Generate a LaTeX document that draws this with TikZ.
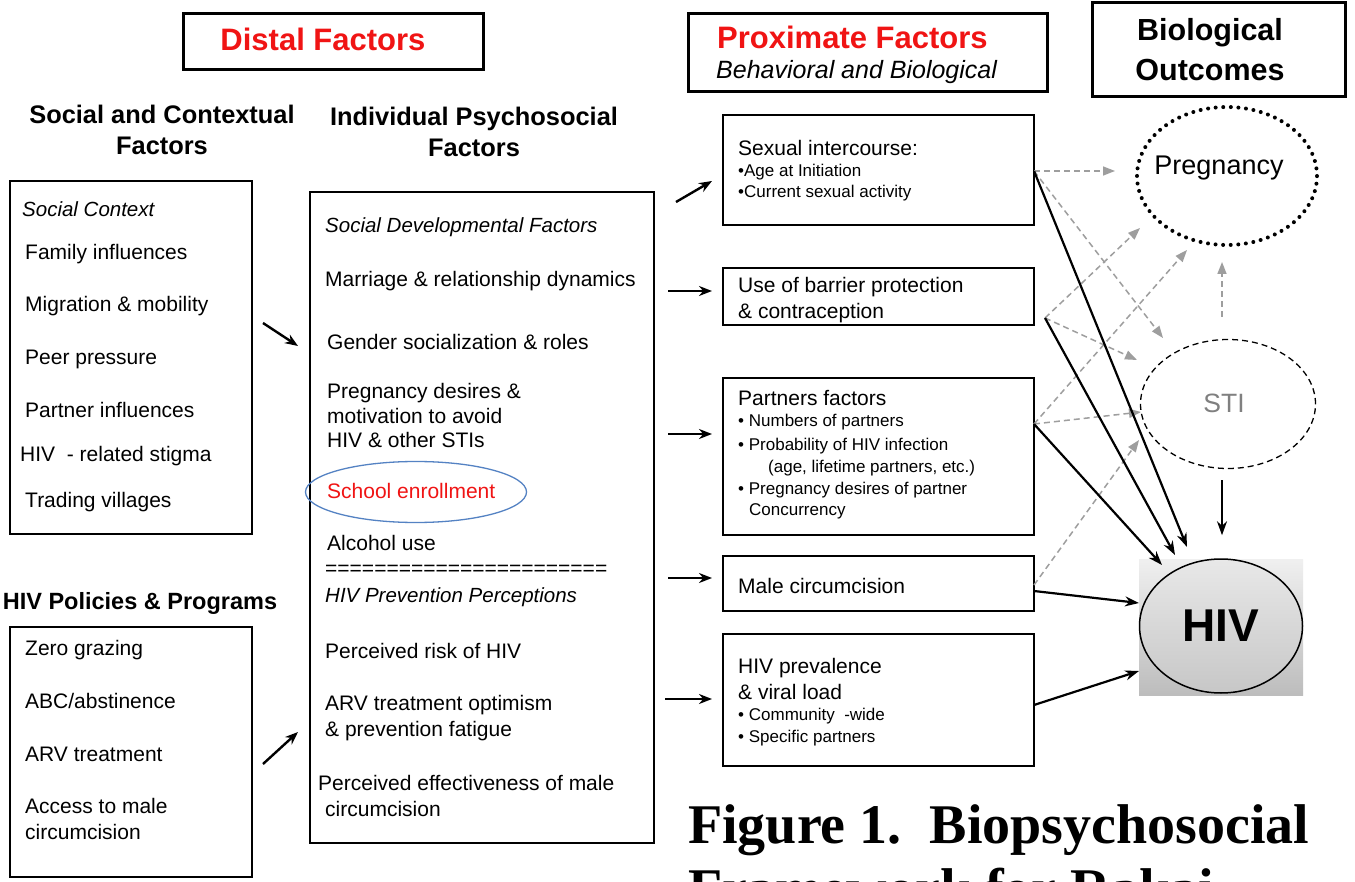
\documentclass[tikz,border=0pt]{standalone}
\usepackage{fontspec}
\setmainfont{Liberation Sans}
\newfontfamily\capfont{Liberation Serif}
\usetikzlibrary{arrows.meta,calc,shapes.geometric}
\definecolor{redt}{RGB}{240,20,20}
\definecolor{ellblue}{RGB}{84,130,195}
\definecolor{garrow}{RGB}{158,158,158}
\definecolor{stigray}{RGB}{128,128,128}
\tikzset{
  frame/.style={draw, line width=1.5pt, inner sep=0},
  hdrbox/.style={draw, line width=3pt, inner sep=0},
  body/.style={anchor=base west, inner sep=0, font=\fontsize{21}{25}\selectfont},
  bodyit/.style={anchor=base west, inner sep=0, font=\itshape\fontsize{20.5}{25}\selectfont},
  small/.style={anchor=base west, inner sep=0, font=\fontsize{17}{21}\selectfont},
  hdr/.style={anchor=base, inner sep=0, font=\bfseries\fontsize{25.4}{30}\selectfont},
  big/.style={anchor=base, inner sep=0, font=\bfseries\fontsize{31}{36}\selectfont},
  arr/.style={line width=2.4pt, -{Stealth[length=13pt,width=10pt]}},
  harr/.style={line width=2.2pt, -{Stealth[length=14pt,width=10pt]}},
  garr/.style={draw=garrow, line width=1.5pt, dash pattern=on 6pt off 4pt, -{Triangle[length=12pt,width=9pt,fill=garrow]}}
}
\begin{document}
\begin{tikzpicture}[x=1pt,y=-1pt]
\useasboundingbox (0,0) rectangle (1355,882);
\clip (0,0) rectangle (1355,882);
\fill[white] (0,0) rectangle (1355,882);

% ---------- top header boxes ----------
\node[hdrbox, minimum width=300, minimum height=56] (distal) at (333,42) {};
\node[big, text=redt] (distalT) at (323,51) {Distal Factors};
\node[hdrbox, minimum width=359, minimum height=78] (prox) at (867.5,53) {};
\node[anchor=base west, inner sep=0, font=\bfseries\fontsize{31}{36}\selectfont, text=redt] (proxT) at (717,49) {Proximate Factors};
\node[anchor=base west, inner sep=0, font=\itshape\fontsize{25}{30}\selectfont] (proxS) at (716,79) {Behavioral and Biological};
\node[hdrbox, minimum width=253, minimum height=94] (bio) at (1218.5,50) {};
\node[big, font=\bfseries\fontsize{30.5}{36}\selectfont] (bioT1) at (1210,41) {Biological};
\node[big, font=\bfseries\fontsize{30.5}{36}\selectfont] (bioT2) at (1210,81) {Outcomes};

% ---------- column headers ----------
\node[hdr] (scH1) at (162,124) {Social and Contextual};
\node[hdr] (scH2) at (162,155) {Factors};
\node[hdr] (ipH1) at (474,126) {Individual Psychosocial};
\node[hdr] (ipH2) at (474,157) {Factors};
\node[hdr, font=\bfseries\fontsize{23.5}{28}\selectfont] (polH) at (140,609) {HIV Policies \& Programs};

% ---------- social context box ----------
\node[frame, minimum width=242, minimum height=353] (social) at (131,357.5) {};
\node[bodyit] (s0) at (22,217) {Social Context};
\node[body] (s1) at (25,260) {Family influences};
\node[body] (s2) at (25,312) {Migration \& mobility};
\node[body] (s3) at (25,365) {Peer pressure};
\node[body] (s4) at (25,418) {Partner influences};
\node[body] (s5) at (20,461) {HIV\ \ - related stigma};
\node[body] (s6) at (25,507) {Trading villages};

% ---------- policies box ----------
\node[frame, minimum width=242, minimum height=250] (policy) at (131,752) {};
\node[body] (p1) at (25,655) {Zero grazing};
\node[body] (p2) at (25,708) {ABC/abstinence};
\node[body] (p3) at (25,761) {ARV treatment};
\node[body] (p4) at (25,813) {Access to male};
\node[body] (p5) at (25,839) {circumcision};

% ---------- individual psychosocial box ----------
\node[frame, minimum width=344, minimum height=651] (indiv) at (482,517.5) {};
\node[bodyit] (i0) at (325,233) {Social Developmental Factors};
\node[body] (i1) at (325,287) {Marriage \& relationship dynamics};
\node[body] (i2) at (327,350) {Gender socialization \& roles};
\node[body] (i3) at (327,399) {Pregnancy desires \&};
\node[body] (i4) at (327,424) {motivation to avoid};
\node[body] (i5) at (327,448) {HIV \& other STIs};
\node[body, text=redt] (i6) at (327,498) {School enrollment};
\node[ellipse, draw=ellblue, line width=1.3pt, minimum width=221, minimum height=61, inner sep=0] (ring) at (416,492) {};
\node[body] (i7) at (327,550) {Alcohol use};
\node[body] (i8) at (325,575) {=======================};
\node[bodyit] (i9) at (325,602) {HIV Prevention Perceptions};
\node[body] (i10) at (325,658) {Perceived risk of HIV};
\node[body] (i11) at (325,710) {ARV treatment optimism};
\node[body] (i12) at (325,736) {\& prevention fatigue};
\node[body] (i13) at (318,790) {Perceived effectiveness of male};
\node[body] (i14) at (325,816) {circumcision};

% ---------- proximate boxes ----------
\node[frame, minimum width=311, minimum height=110] (sex) at (878.5,170) {};
\node[body] (x1) at (738,156) {Sexual intercourse:};
\node[small] (x2) at (738,177) {\textbullet Age at Initiation};
\node[small] (x3) at (738,198) {\textbullet Current sexual activity};

\node[frame, minimum width=311, minimum height=57] (barrier) at (878.5,296.5) {};
\node[body] (b1) at (738,293) {Use of barrier protection};
\node[body] (b2) at (738,319) {\& contraception};

\node[frame, minimum width=311, minimum height=157] (partners) at (878.5,456.5) {};
\node[body] (q1) at (738,406) {Partners factors};
\node[small] (q2) at (738,427) {\textbullet\ Numbers of partners};
\node[small] (q3) at (738,450) {\textbullet\ Probability of HIV infection};
\node[small] (q4) at (768,472) {(age, lifetime partners, etc.)};
\node[small] (q5) at (738,494) {\textbullet\ Pregnancy desires of partner};
\node[small] (q6) at (749,515) {Concurrency};

\node[frame, minimum width=311, minimum height=55] (male) at (878.5,583.5) {};
\node[body] (m1) at (738,593) {Male circumcision};

\node[frame, minimum width=311, minimum height=132] (prev) at (878.5,700) {};
\node[body] (v1) at (738,673) {HIV prevalence};
\node[body] (v2) at (738,699) {\& viral load};
\node[small] (v3) at (738,720) {\textbullet\ Community\ \ -wide};
\node[small] (v4) at (738,742) {\textbullet\ Specific partners};

% ---------- outcomes ----------
\node[ellipse, draw, line width=4pt, dash pattern=on 0pt off 7.6pt, line cap=round, minimum width=180, minimum height=138, inner sep=0] (preg) at (1227,176) {};
\node[anchor=base, inner sep=0, font=\fontsize{27}{32}\selectfont] (pregT) at (1219,175) {Pregnancy};
\node[ellipse, draw, line width=1.3pt, dash pattern=on 6pt off 4pt, minimum width=175, minimum height=129, inner sep=0] (sti) at (1228,404) {};
\node[anchor=base, inner sep=0, text=stigray, font=\fontsize{26.5}{32}\selectfont] (stiT) at (1224,413) {STI};
\node[inner sep=0, minimum width=164, minimum height=136, top color=black!6, bottom color=black!26] (hivbg) at (1221,627) {};
\node[ellipse, draw, line width=1.5pt, minimum width=163, minimum height=134, inner sep=0, top color=black!9, bottom color=black!22, font=\bfseries\fontsize{46}{50}\selectfont] (hiv) at (1221,626) {HIV};

% ---------- coordinates (ports) ----------
\coordinate (aS1) at (263,323);  \coordinate (aS2) at (298,346);
\coordinate (aP1) at (263,764);  \coordinate (aP2) at (298,732);
\coordinate (aX1) at (676,202);  \coordinate (aX2) at (712,181);
\coordinate (aB1) at (668,291);  \coordinate (aB2) at (712,291);
\coordinate (aQ1) at (668,434);  \coordinate (aQ2) at (712,434);
\coordinate (aM1) at (668,578);  \coordinate (aM2) at (712,578);
\coordinate (aV1) at (665,699);  \coordinate (aV2) at (712,699);

\coordinate (pS) at (1034,171);
\coordinate (pB) at (1045,318);
\coordinate (pP) at (1034,424);
\coordinate (pM) at (1034,591);
\coordinate (pMg) at (1034,585);
\coordinate (pV) at (1034,705);

\coordinate (tS) at (1187,547);
\coordinate (tB) at (1175,555);
\coordinate (tP) at (1162,565);
\coordinate (tM) at (1139,603);
\coordinate (tV) at (1139,671);

\coordinate (g1) at (1115,171);
\coordinate (g2) at (1163,338);
\coordinate (g3) at (1140,228);
\coordinate (g4) at (1137,360);
\coordinate (g5) at (1187,250);
\coordinate (g6) at (1141,412);
\coordinate (g7) at (1139,440);

% ---------- arrows between columns ----------
\draw[arr] (aS1) -- (aS2);
\draw[arr] (aP1) -- (aP2);
\draw[arr] (aX1) -- (aX2);
\draw[arr] (aB1) -- (aB2);
\draw[arr] (aQ1) -- (aQ2);
\draw[arr] (aM1) -- (aM2);
\draw[arr] (aV1) -- (aV2);

% ---------- gray dashed arrows ----------
\draw[garr] (pS) -- (g1);
\draw[garr] (pS) -- (g2);
\draw[garr] (pB) -- (g3);
\draw[garr] (pB) -- (g4);
\draw[garr] (pP) -- (g5);
\draw[garr] (pP) -- (g6);
\draw[garr] (pMg) -- (g7);
\draw[garr, shorten <=22pt, shorten >=15pt] ([xshift=-6pt]sti.north) -- ([xshift=-5pt]preg.south);

% ---------- black arrows to HIV ----------
\draw[harr] (pS) -- (tS);
\draw[harr] (pB) -- (tB);
\draw[harr] (pP) -- (tP);
\draw[harr] (pM) -- (tM);
\draw[harr] (pV) -- (tV);
\draw[harr, shorten <=11pt, shorten >=23pt] ([xshift=-6pt]sti.south) -- ([xshift=1pt]hiv.north);

% ---------- caption ----------
\node[anchor=base west, inner sep=0, font=\capfont\bfseries\fontsize{56}{60}\selectfont] (cap1) at (688,843) {Figure 1.\ \ Biopsychosocial};
\node[anchor=base west, inner sep=0, font=\capfont\bfseries\fontsize{56}{60}\selectfont] (cap2) at (688,907) {Framework for Rakai};
\end{tikzpicture}
\end{document}
